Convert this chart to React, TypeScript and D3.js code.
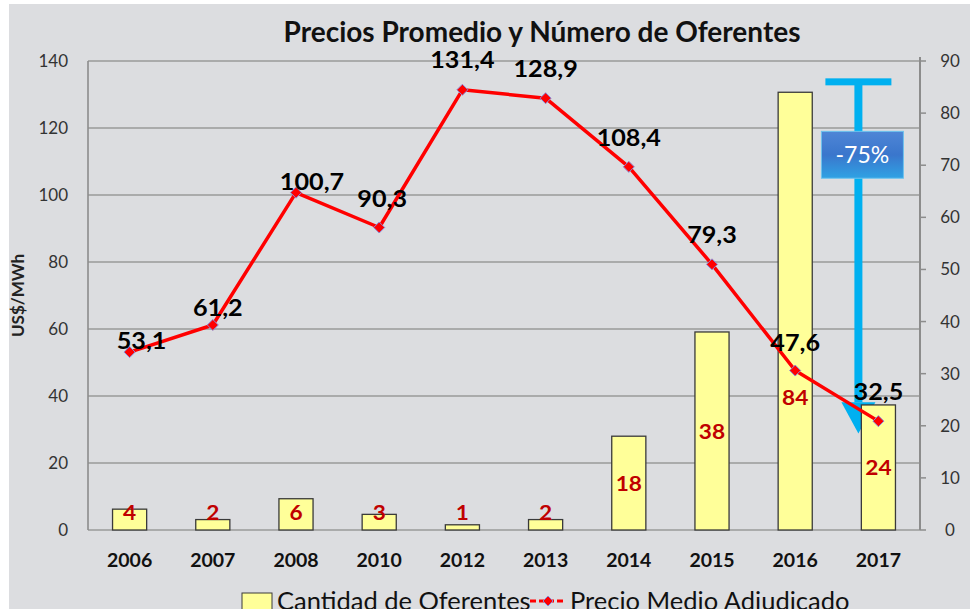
import * as d3 from "d3";
import React, { useEffect } from "react";

const years = ["2006", "2007", "2008", "2010", "2012", "2013", "2014", "2015", "2016", "2017"];
const oferentes = [4, 2, 6, 3, 1, 2, 18, 38, 84, 24];
const precios = [53.1, 61.2, 100.7, 90.3, 131.4, 128.9, 108.4, 79.3, 47.6, 32.5];
const leftTicks = [0, 20, 40, 60, 80, 100, 120, 140];
const rightTicks = [0, 10, 20, 30, 40, 50, 60, 70, 80, 90];

// label nudges as placed by hand in the original (px)
const priceLabelDx = [12, 5, 16, 3, 0, 0, 0, 0, 0, 0];
const priceLabelDy = [-3, -9, -3, -20, -22, -21, -21, -21, -20, -21];

const W = 970;
const H = 609;
const M = { left: 88, right: 920, top: 61, bottom: 530 };
const FONT = "Lato, 'Open Sans', sans-serif";

const fmt = (v: number) => v.toFixed(1).replace(".", ",");

const App: React.FC = () => {
  useEffect(() => {
    document.body.style.margin = "0";
  }, []);

  const x = d3.scaleBand().domain(years).range([M.left, M.right]).paddingInner(0.59).paddingOuter(0.295);
  const yL = d3.scaleLinear().domain([0, 140]).range([M.bottom, M.top]);
  const yR = d3.scaleLinear().domain([0, 90]).range([M.bottom, M.top]);
  const cx = (y: string) => (x(y) ?? 0) + x.bandwidth() / 2;

  const line = d3
    .line<number>()
    .x((_, i) => cx(years[i]))
    .y((d) => yL(d));

  const ax = cx("2017") - 20;
  const arrowTop = yR(86);
  const arrowHeadY = yR(24.5);
  const arrowTip = yR(18.5);

  const diamond = (px: number, py: number, r = 5.5) =>
    `M${px},${py - r}L${px + r},${py}L${px},${py + r}L${px - r},${py}Z`;

  return (
    <svg width={W} height={H} style={{ display: "block" }}>
      <defs>
        <linearGradient id="boxg" x1="0" y1="0" x2="0" y2="1">
          <stop offset="0" stopColor="#4f86d6" />
          <stop offset="0.5" stopColor="#3a76cc" />
          <stop offset="1" stopColor="#2fa2e4" />
        </linearGradient>
      </defs>
      <rect width={W} height={H} fill="#ffffff" />
      <rect x={9} y={4} width={W - 9} height={H - 4} fill="#dcdde0" />

      <text x={542} y={42} textAnchor="middle" fontFamily={FONT} fontWeight="bold" fontSize={28} fill="#111">
        Precios Promedio y Número de Oferentes
      </text>

      {/* gridlines */}
      {leftTicks.map((t) => (
        <line key={t} x1={M.left} x2={M.right} y1={yL(t)} y2={yL(t)} stroke="#9a9a9a" strokeWidth={1.6} />
      ))}
      <line x1={M.left} x2={M.left} y1={M.top} y2={M.bottom} stroke="#8c8c8c" strokeWidth={1.6} />
      <line x1={M.right} x2={M.right} y1={M.top - 4} y2={M.bottom} stroke="#8c8c8c" strokeWidth={2} />
      {rightTicks.map((t) => (
        <g key={t}>
          <line x1={M.right} x2={M.right + 6} y1={yR(t)} y2={yR(t)} stroke="#8c8c8c" strokeWidth={1.5} />
          <text x={M.right + 30} y={yR(t) + 6} textAnchor="middle" fontFamily={FONT} fontSize={17} fill="#333">
            {t}
          </text>
        </g>
      ))}
      {leftTicks.map((t) => (
        <text key={t} x={68} y={yL(t) + 6} textAnchor="end" fontFamily={FONT} fontSize={17} fill="#333">
          {t}
        </text>
      ))}
      <text transform={`translate(24,${(M.top + M.bottom) / 2}) rotate(-90)`} textAnchor="middle" fontFamily={FONT} fontWeight="bold" fontSize={17} fill="#222">
        US$/MWh
      </text>

      {/* arrow (behind bars) */}
      <g fill="#00b0f0">
        <rect x={ax - 33} y={arrowTop - 3.5} width={66} height={7} />
        <rect x={ax - 4} y={arrowTop} width={8} height={arrowHeadY - arrowTop} />
        <path d={`M${ax - 17},${arrowHeadY}L${ax + 17},${arrowHeadY}L${ax},${arrowTip}Z`} />
      </g>
      <rect x={ax - 37} y={yR(76.5)} width={82} height={yR(67.5) - yR(76.5)} fill="url(#boxg)" stroke="#6cc3ee" strokeWidth={1} />
      <text x={ax + 4} y={(yR(76.5) + yR(67.5)) / 2 + 8} textAnchor="middle" fontFamily={FONT} fontSize={23} fill="#ffffff">
        -75%
      </text>

      {/* bars */}
      {oferentes.map((v, i) => (
        <rect
          key={years[i]}
          x={x(years[i])}
          y={yR(v)}
          width={x.bandwidth()}
          height={M.bottom - yR(v)}
          fill="#ffff99"
          stroke="#3a3a3a"
          strokeWidth={1.3}
        />
      ))}
      {oferentes.map((v, i) => {
        // centered in bar; small bars keep label near top, 2016 label was moved down in the original
        const mid = years[i] === "2016" ? yR(25.5) : Math.min(yR(v / 2), yR(3.5));
        return (
          <text
            key={years[i]}
            transform={`translate(${cx(years[i])},${mid + 8}) scale(1.08,1)`}
            textAnchor="middle"
            fontFamily={FONT}
            fontWeight="bold"
            fontSize={21}
            fill="#c00000"
          >
            {v}
          </text>
        );
      })}

      {/* price line */}
      <path d={line(precios) ?? ""} fill="none" stroke="#ff0000" strokeWidth={3.5} strokeLinejoin="round" />
      {precios.map((v, i) => (
        <path key={years[i]} d={diamond(cx(years[i]), yL(v))} fill="#ff0000" stroke="#8a8ad8" strokeWidth={1} />
      ))}
      {precios.map((v, i) => (
        <text
          key={years[i]}
          transform={`translate(${cx(years[i]) + priceLabelDx[i]},${yL(v) + priceLabelDy[i]}) scale(1.12,1)`}
          textAnchor="middle"
          fontFamily={FONT}
          fontWeight="bold"
          fontSize={22.5}
          fill="#000"
        >
          {fmt(v)}
        </text>
      ))}

      {/* x labels */}
      {years.map((y) => (
        <text key={y} x={cx(y)} y={567} textAnchor="middle" fontFamily={FONT} fontWeight="bold" fontSize={19.5} fill="#111">
          {y}
        </text>
      ))}

      {/* legend */}
      <rect x={242} y={593} width={30} height={22} fill="#ffff99" stroke="#3a3a3a" strokeWidth={1} />
      <text x={277} y={610} fontFamily={FONT} fontSize={25.5} fill="#111">
        Cantidad de Oferentes
      </text>
      <line x1={530} x2={566} y1={601} y2={601} stroke="#ff0000" strokeWidth={3} strokeDasharray="6,3" />
      <path d={diamond(548, 601, 5)} fill="#ff0000" stroke="#8a8ad8" strokeWidth={1} />
      <text x={570} y={610} fontFamily={FONT} fontSize={25.5} fill="#111">
        Precio Medio Adjudicado
      </text>
    </svg>
  );
};

export default App;
